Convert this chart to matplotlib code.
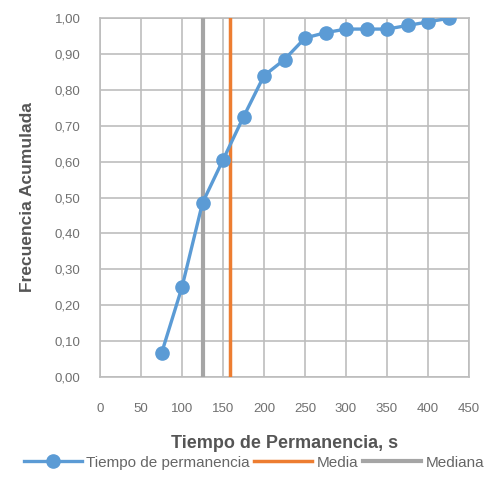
import matplotlib
matplotlib.use('Agg')
import matplotlib.pyplot as plt

plt.rcParams['font.family'] = ['Liberation Sans', 'DejaVu Sans']

# tiempo de permanencia (s) y frecuencia acumulada
tiempo = [75, 100, 125, 150, 175, 200, 225, 250, 275, 300, 325, 350, 375, 400, 425]
frec_acum = [0.065, 0.25, 0.485, 0.605, 0.725, 0.84, 0.885, 0.945, 0.96,
             0.97, 0.97, 0.97, 0.98, 0.99, 1.00]
media = 158
mediana = 125

x_ticks = list(range(0, 451, 50))
y_ticks = [i / 10 for i in range(11)]

fig = plt.figure(figsize=(4.98, 4.86), dpi=100)
ax = fig.add_axes([0.2008, 0.2249, 0.7410, 0.7374])

ax.plot(tiempo, frec_acum, color='#5B9BD5', linewidth=2.4, marker='o',
        markersize=9.5, label='Tiempo de permanencia', zorder=4)
ax.axvline(media, color='#ED7D31', linewidth=2.5, label='Media', zorder=3)
ax.axvline(mediana, color='#A5A5A5', linewidth=3, label='Mediana', zorder=3)

ax.set_xlim(0, 450)
ax.set_ylim(0, 1)
ax.set_xticks(x_ticks)
ax.set_yticks(y_ticks)
ax.set_yticklabels([f'{v:.2f}'.replace('.', ',') for v in y_ticks])
ax.grid(True, color='#BDBDBD', linewidth=1.2)
ax.set_axisbelow(True)
for s in ax.spines.values():
    s.set_color('#BDBDBD')
    s.set_linewidth(1.2)
ax.tick_params(length=0, labelsize=9.5, colors='#707070')
ax.tick_params(axis='x', pad=19)
ax.tick_params(axis='y', pad=14)

ax.set_xlabel('Tiempo de Permanencia, s', fontsize=13, fontweight='bold',
              color='#555555', labelpad=14)
ax.set_ylabel('Frecuencia Acumulada', fontsize=12.5, fontweight='bold',
              color='#555555', labelpad=14)

leg = fig.legend(loc='center', bbox_to_anchor=(0.51, 0.048), ncol=3,
                 frameon=False, fontsize=11, handlelength=3.8,
                 columnspacing=0.3, handletextpad=0.3, borderpad=0)
for t in leg.get_texts():
    t.set_color('#666666')

plt.savefig('out.png', dpi=100)
